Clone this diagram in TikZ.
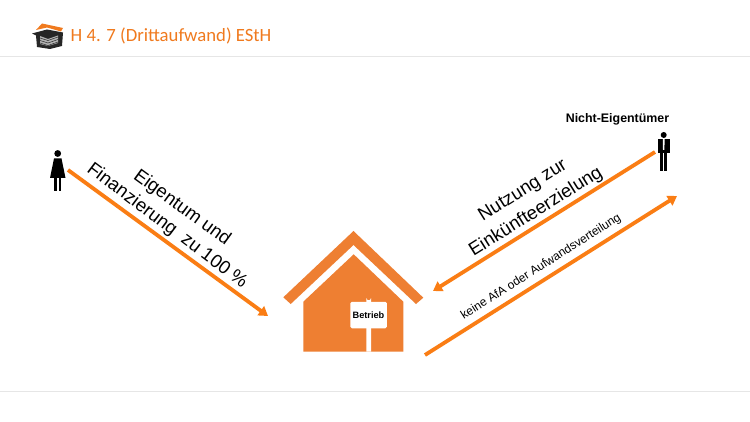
\documentclass[tikz,border=0pt]{standalone}
\usepackage{fontspec}
\setmainfont{Liberation Sans}
\newfontfamily\titlefont{Carlito}
\usetikzlibrary{arrows, arrows.meta, positioning}
\definecolor{titleorange}{HTML}{F07A1E}
\definecolor{arroworange}{HTML}{FA7D14}
\definecolor{houseorange}{HTML}{EE7F32}
\definecolor{rulegrey}{HTML}{E6E6E6}
\tikzset{
    flow/.style={draw=arroworange,line width=3.8pt,-{Triangle[length=9pt,width=11pt]}},
    rulerline/.style={draw=rulegrey,line width=0.8pt},
    turned/.style={font=\fontsize{18.6}{21}\selectfont,inner sep=0pt},
    person/.style={fill=black,draw=none}
}
\begin{document}
\begin{tikzpicture}[x=1pt,y=-1pt]
    \useasboundingbox[fill=white] (0,0) rectangle (750,422);
    % header
    \draw[rulerline] (0,56) -- (750,56);
    \draw[rulerline] (0,391) -- (750,391);
    \node[anchor=west,text=titleorange,font=\titlefont\fontsize{18.7}{21}\selectfont,inner sep=0pt] (title) at (70.5,35.5) {H 4. 7 (Drittaufwand) EStH};
    % logo
    \fill[titleorange] (36,30) -- (42,23.5) -- (63,28) -- (61,31.5) -- (47,27.5) -- cycle;
    \fill[black!85] (32,33.5) -- (47,29.5) -- (63,32.5) -- (62,46) -- (50,49) -- (37,47) -- (36,35.5) -- cycle;
    \fill[white!70!black] (40,36) -- (48,39) -- (58,35.5) -- (58,43) -- (48,46) -- (40,44) -- cycle;
    \foreach \yy in {38,40.5,43} {
        \draw[black!85,line width=0.5pt] (40,\yy) -- (48,\yy+2.5) -- (58,\yy-1);
    }
    % woman
    \fill[person] (57.7,153.5) circle (3.4);
    \fill[person] (54,158.5) -- (61.5,158.5) -- (65.5,178) -- (50,178) -- cycle;
    \fill[person] (54,178) rectangle (56.8,191);
    \fill[person] (58.6,178) rectangle (61.4,191);
    % man
    \fill[person] (663.7,135) circle (3);
    \fill[person] (657.7,139) rectangle (669.7,153);
    \fill[person] (660,153) rectangle (663.2,171.5);
    \fill[person] (664.2,153) rectangle (667.4,171.5);
    \fill[white] (662.8,139) -- (664.6,139) -- (664.4,150) -- (663,150) -- cycle;
    \node[font=\bfseries\fontsize{12.4}{14}\selectfont,inner sep=0pt] (owner) at (617.5,119) {Nicht-Eigentümer};
    % house
    \fill[houseorange] (353.5,231) -- (423.3,297.7) -- (416,304) -- (353.5,245) -- (290.7,304) -- (283.3,297.3) -- cycle;
    \fill[houseorange] (353.7,254.3) -- (403.3,301.7) -- (403.3,351.5) -- (303.3,351.5) -- (303.3,301.7) -- cycle;
    \fill[white] (366.4,351.5) -- (366.4,298) arc[start angle=180,end angle=0,radius=2.3] -- (371,351.5) -- cycle;
    \node[fill=white,rounded corners=1.5pt,minimum width=36.5pt,minimum height=26.5pt,inner sep=0pt,font=\bfseries\fontsize{9.2}{10}\selectfont] (sign) at (368.5,315) {Betrieb};
    % arrows
    \coordinate (A1) at (68,170);
    \coordinate (A2) at (268,316);
    \coordinate (B1) at (655,152);
    \coordinate (B2) at (433,291);
    \coordinate (C1) at (425,355);
    \coordinate (C2) at (677,196);
    \draw[flow] (A1) -- (A2);
    \draw[flow] (B1) -- (B2);
    \draw[flow] (C1) -- (C2);
    % labels
    \node[turned,rotate=-36] (own) at (182,208) {Eigentum und};
    \node[turned,rotate=-37] (fin) at (167,226) {Finanzierung\ \ zu 100 \%};
    \node[turned,rotate=32] (use) at (523,191) {Nutzung zur};
    \node[turned,rotate=32] (inc) at (536,212) {Einkünfteerzielung};
    \node[inner sep=0pt,rotate=32.5,font=\fontsize{12}{14}\selectfont] (afa) at (541,267) {keine AfA oder Aufwandsverteilung};
\end{tikzpicture}
\end{document}
